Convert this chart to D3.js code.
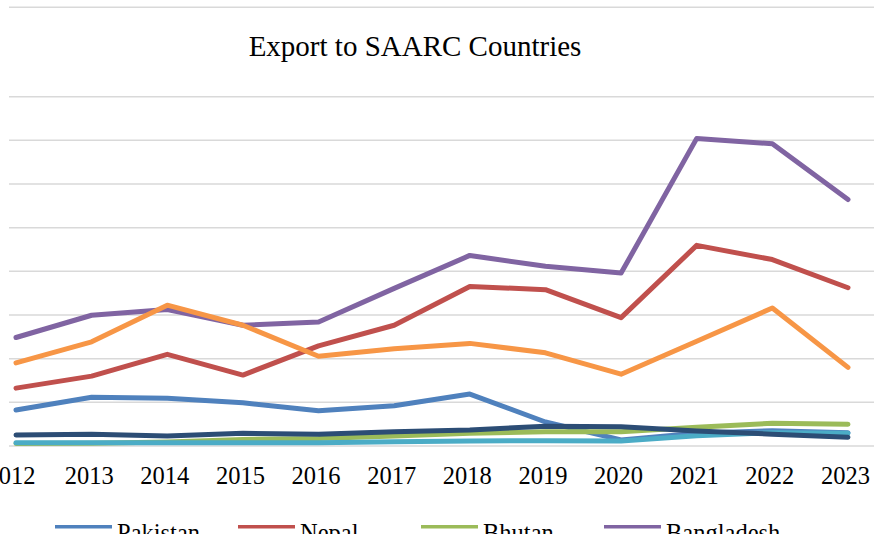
<!DOCTYPE html>
<html>
<head>
<meta charset="utf-8">
<script src="https://cdn.jsdelivr.net/npm/d3@7"></script>
<style>
  body { margin: 0; background: #fff; overflow: hidden; }
  svg { display: block; font-family: "Liberation Serif", "Times New Roman", serif; }
</style>
</head>
<body>
<svg width="874" height="534"></svg>
<script>
// Data (values in US$ million)
var years = ['2012','2013','2014','2015','2016','2017','2018','2019','2020','2021','2022','2023'];
var seriesNames = ['Pakistan','Nepal','Bhutan','Bangladesh','Maldives','Sri Lanka','Afghanistan'];
var seriesColors = ['#4F81BD','#C0504D','#9BBB59','#8064A2','#4BACC6','#F79646','#2C4D75'];

var pakistan    = [1650, 2230, 2190, 1980, 1610, 1840, 2380, 1100, 280, 580, 700, 610];
var nepal       = [2650, 3200, 4200, 3250, 4590, 5530, 7310, 7160, 5880, 9190, 8540, 7250];
var bhutan      = [120, 130, 180, 300, 340, 460, 580, 650, 650, 860, 1040, 1000];
var bangladesh  = [4970, 5990, 6250, 5530, 5680, 7220, 8730, 8230, 7920, 14090, 13840, 11290];
var maldives    = [150, 150, 150, 150, 150, 200, 230, 240, 230, 470, 610, 580];
var sriLanka    = [3810, 4770, 6450, 5530, 4110, 4450, 4700, 4270, 3290, 4800, 6320, 3600];
var afghanistan = [500, 540, 460, 580, 540, 650, 730, 910, 880, 690, 540, 400];

var seriesValues = [pakistan, nepal, bhutan, bangladesh, maldives, sriLanka, afghanistan];
var yTicks = [0, 2000, 4000, 6000, 8000, 10000, 12000, 14000, 16000];

var svg = d3.select('svg');

var xScale = d3.scalePoint()
    .domain(years)
    .range([16, 848]);
var yScale = d3.scaleLinear()
    .domain([0, 16000])
    .range([446, 96.7]);

// top frame line
svg.append('line')
    .attr('x1', 9).attr('x2', 874)
    .attr('y1', 7.3).attr('y2', 7.3)
    .attr('stroke', '#d9d9d9')
    .attr('stroke-width', 1.5);

// Gridlines
svg.append('g')
    .selectAll('line')
    .data(yTicks)
    .enter().append('line')
    .attr('x1', 9).attr('x2', 874)
    .attr('y1', function(d) { return yScale(d); })
    .attr('y2', function(d) { return yScale(d); })
    .attr('stroke', '#d9d9d9')
    .attr('stroke-width', 1.5);

// Title
svg.append('text')
    .attr('x', 415)
    .attr('y', 56)
    .attr('text-anchor', 'middle')
    .style('font-size', '29px')
    .style('fill', '#000')
    .text('Export to SAARC Countries');

// x axis labels
var xAxisG = svg.append('g')
    .attr('transform', 'translate(0,' + 446 + ')')
    .call(d3.axisBottom(xScale).tickSize(0).tickPadding(20.6));
xAxisG.select('.domain').remove();
xAxisG.selectAll('text')
    .attr('dx', function(d, i) { return i === 0 ? -5.5 : -3; })
    .style('font-family', '"Liberation Serif", "Times New Roman", serif')
    .style('font-size', '24.5px')
    .style('fill', '#000');

// Lines
var line = d3.line()
    .x(function(d, i) { return xScale(years[i]); })
    .y(function(d) { return yScale(d); });

svg.append('g')
    .selectAll('path')
    .data(seriesValues)
    .enter().append('path')
    .attr('d', function(d) { return line(d); })
    .attr('fill', 'none')
    .attr('stroke', function(d, i) { return seriesColors[i]; })
    .attr('stroke-width', 5)
    .attr('stroke-linecap', 'round')
    .attr('stroke-linejoin', 'round');

// Legend (cut off at the bottom as in the reference)
var legendG = svg.append('g');
var legendItems = legendG.selectAll('g')
    .data(seriesNames)
    .enter().append('g')
    .attr('transform', function(d, i) {
        var col = i % 4, row = Math.floor(i / 4);
        return 'translate(' + [55 + col * 183, 526.7 + row * 34] + ')';
    });
legendItems.append('line')
    .attr('x1', 0).attr('x2', 57)
    .attr('y1', 0).attr('y2', 0)
    .attr('stroke', function(d, i) { return seriesColors[i]; })
    .attr('stroke-width', 3.5);
legendItems.append('text')
    .attr('x', 62)
    .attr('y', 14.5)
    .style('font-size', '24.5px')
    .style('fill', '#000')
    .text(function(d) { return d; });
</script>
</body>
</html>
